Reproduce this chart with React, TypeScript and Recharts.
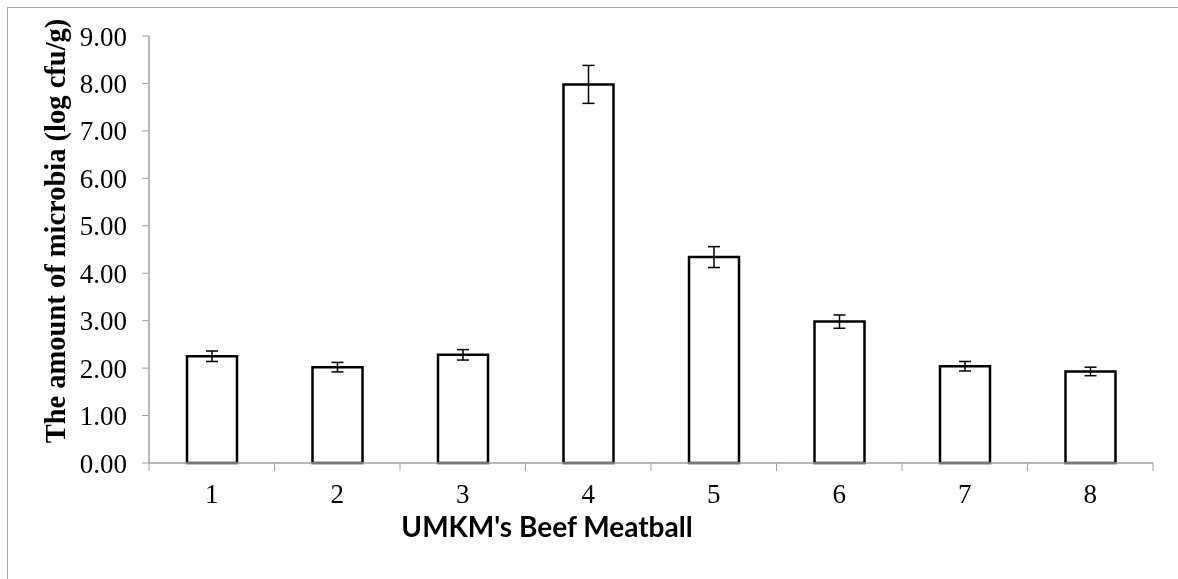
import React from "react";
import {
  BarChart,
  Bar,
  XAxis,
  YAxis,
  ErrorBar,
} from "recharts";

const categories = ["1", "2", "3", "4", "5", "6", "7", "8"];
const means = [2.25, 2.02, 2.28, 7.98, 4.34, 2.98, 2.04, 1.93];
const errors = [0.11, 0.1, 0.11, 0.4, 0.22, 0.14, 0.1, 0.09];
const yTicks = [0, 1, 2, 3, 4, 5, 6, 7, 8, 9];

const data = categories.map((c, i) => ({ name: c, value: means[i], err: errors[i] }));

const W = 1170;
const H = 560;
const M = { top: 28, right: 25, left: 0, bottom: 0 };
const Y_W = 141;
const X_H = H - 455;
const PLOT_BOTTOM = H - X_H;
const BAND = (W - M.right - Y_W) / categories.length;
const AXIS = "#a0a0a0";
const SERIF = "'Liberation Serif', 'Times New Roman', serif";

const XTick = (props: any) => {
  const { x, payload, index } = props;
  const half = BAND / 2;
  return (
    <g>
      <text x={x} y={PLOT_BOTTOM + 40} textAnchor="middle" fontFamily={SERIF} fontSize={27} fill="#000">
        {payload.value}
      </text>
      <line x1={x - half} y1={PLOT_BOTTOM} x2={x - half} y2={PLOT_BOTTOM + 8} stroke={AXIS} />
      {index === categories.length - 1 && (
        <line x1={x + half} y1={PLOT_BOTTOM} x2={x + half} y2={PLOT_BOTTOM + 8} stroke={AXIS} />
      )}
    </g>
  );
};

const YLabel = () => (
  <text
    x={57}
    y={223}
    transform="rotate(-90 57 223)"
    textAnchor="middle"
    fontFamily={SERIF}
    fontWeight="bold"
    fontSize={28.5}
    fill="#000"
  >
    The amount of microbia (log cfu/g)
  </text>
);

const XLabel = () => (
  <text x={539} y={529} textAnchor="middle" fontFamily="Lato, 'Open Sans', sans-serif" fontWeight="bold" fontSize={28} fill="#000">
    UMKM's Beef Meatball
  </text>
);

export default function App() {
  return (
    <div>
      <div
        style={{
          position: "fixed",
          left: 7,
          top: 7,
          right: -10,
          bottom: -10,
          border: "1px solid #a6a6a6",
          pointerEvents: "none",
        }}
      />
      <BarChart width={W} height={H} data={data} margin={M} barSize={50}>
        <XAxis
          dataKey="name"
          height={X_H}
          interval={0}
          tickLine={false}
          axisLine={{ stroke: AXIS, strokeWidth: 1.5 }}
          tick={<XTick />}
          label={<XLabel />}
        />
        <YAxis
          width={Y_W}
          domain={[0, 9]}
          ticks={yTicks}
          interval={0}
          tickFormatter={(v: number) => v.toFixed(2)}
          tickSize={7}
          tickMargin={15}
          tickLine={{ stroke: AXIS }}
          axisLine={{ stroke: AXIS, strokeWidth: 1.5 }}
          tick={{ fontFamily: SERIF, fontSize: 27, fill: "#000" }}
          label={<YLabel />}
        />
        <Bar dataKey="value" fill="#fff" stroke="#000" strokeWidth={2.5} isAnimationActive={false}>
          <ErrorBar dataKey="err" width={6} stroke="#000" strokeWidth={1.5} direction="y" />
        </Bar>
      </BarChart>
    </div>
  );
}
